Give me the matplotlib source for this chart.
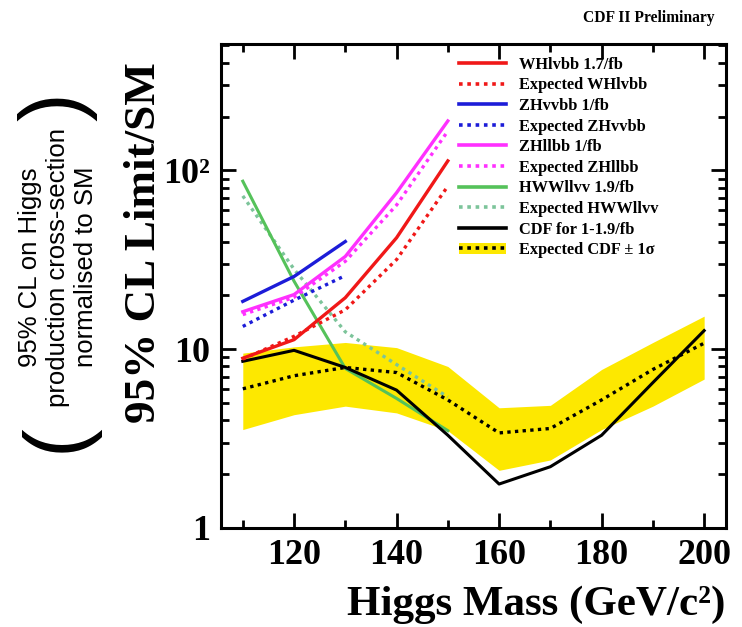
import matplotlib
matplotlib.use("Agg")
import matplotlib.pyplot as plt
from matplotlib.ticker import FixedLocator, NullFormatter, FixedFormatter
from matplotlib.patches import Patch
from matplotlib.lines import Line2D

# ---- data ----
mass = [110, 120, 130, 140, 150, 160, 170, 180, 190, 200]
mass_lo = [110, 120, 130]          # ZHvvbb only up to 130
mass_mid = [110, 120, 130, 140, 150]

wh_obs = [8.9, 11.3, 19.4, 42, 113]
wh_exp = [8.8, 11.8, 16.6, 31.7, 81.6]
zhvv_obs = [18.5, 25.5, 40]
zhvv_exp = [13.4, 18.8, 25.8]
zhll_obs = [16.2, 20.2, 33, 75, 189]
zhll_exp = [15.6, 19.5, 31, 64, 166]
hww_obs = [87, 24, 7.8, 5.3, 3.5]
hww_exp = [72, 28, 12.5, 8.2, 5.4]

cdf_obs = [8.55, 9.85, 7.9, 5.9, 3.3, 1.76, 2.2, 3.3, 6.5, 12.7]
cdf_exp = [6.0, 7.1, 7.9, 7.4, 5.2, 3.4, 3.6, 5.2, 7.7, 10.8]
band_hi = [9.5, 10.3, 10.9, 10.2, 8.0, 4.7, 4.85, 7.7, 10.9, 15.3]
band_lo = [3.55, 4.3, 4.8, 4.4, 3.5, 2.1, 2.4, 3.55, 4.8, 6.8]

legend_labels = ["WHlvbb 1.7/fb", "Expected WHlvbb",
                 "ZHvvbb 1/fb", "Expected ZHvvbb",
                 "ZHllbb 1/fb", "Expected ZHllbb",
                 "HWWllvv 1.9/fb", "Expected HWWllvv",
                 "CDF for 1-1.9/fb", "Expected CDF \u00b1 1\u03c3"]

xticks_major = [120, 140, 160, 180, 200]
xticks_minor = [110, 130, 150, 170, 190]
ytick_labels = ["1", "10", "10\u00b2"]

# ---- styling ----
RED = "#f01818"
BLUE = "#1c1cd8"
MAG = "#ff30ff"
GREEN = "#55c25a"
GREEN_D = "#7cc49a"
YEL = "#fde800"
SERIF = "Liberation Serif"
DOT = (0, (1.0, 1.3))

fig = plt.figure(figsize=(7.42, 6.27), dpi=100)
ax = fig.add_axes([0.2975, 0.158, 0.6805, 0.772])

ax.fill_between(mass, band_lo, band_hi, color=YEL, lw=0, zorder=1)
ax.plot(mass, cdf_exp, color="black", lw=2.4, ls=DOT, zorder=3)
ax.plot(mass, cdf_obs, color="black", lw=2.2, zorder=3)

ax.plot(mass_mid, hww_exp, color=GREEN_D, lw=2.4, ls=DOT, zorder=2)
ax.plot(mass_mid, hww_obs, color=GREEN, lw=2.2, zorder=2)

ax.plot(mass_mid, wh_exp, color=RED, lw=2.4, ls=DOT, zorder=4)
ax.plot(mass_mid, wh_obs, color=RED, lw=2.4, zorder=4)
ax.plot(mass_lo, zhvv_exp, color=BLUE, lw=2.4, ls=DOT, zorder=4)
ax.plot(mass_lo, zhvv_obs, color=BLUE, lw=2.4, zorder=4)
ax.plot(mass_mid, zhll_exp, color=MAG, lw=2.4, ls=DOT, zorder=4)
ax.plot(mass_mid, zhll_obs, color=MAG, lw=2.4, zorder=4)

ax.set_yscale("log")
ax.set_xlim(105.7, 204.2)
ax.set_ylim(1, 510)

ax.xaxis.set_major_locator(FixedLocator(xticks_major))
ax.xaxis.set_minor_locator(FixedLocator(xticks_minor))
ax.yaxis.set_major_locator(FixedLocator([1, 10, 100]))
ax.yaxis.set_major_formatter(FixedFormatter(ytick_labels))
ax.yaxis.set_minor_formatter(NullFormatter())
ax.tick_params(which="both", direction="in", top=True, right=True, width=2)
ax.tick_params(which="major", length=11, pad=8)
ax.tick_params(which="minor", length=6)
for lab in ax.get_xticklabels() + ax.get_yticklabels():
    lab.set_fontfamily(SERIF)
    lab.set_fontweight("bold")
    lab.set_fontsize(26)
for s in ax.spines.values():
    s.set_linewidth(2.2)

ax.set_xlabel("Higgs Mass (GeV/c\u00b2)", fontfamily=SERIF, fontweight="bold",
              fontsize=31, loc="right", labelpad=10)
ax.set_ylabel("95% CL Limit/SM", fontfamily=SERIF, fontweight="bold",
              fontsize=32.5, va="center", ha="center")
ax.yaxis.set_label_coords(-0.152, 0.59)

fig.text(0.963, 0.972, "CDF II Preliminary", fontfamily=SERIF, fontweight="bold",
         fontsize=11.2, ha="right", va="center")

# legend
handles = [
    Line2D([], [], color=RED, lw=2.6),
    Line2D([], [], color=RED, lw=2.6, ls=DOT),
    Line2D([], [], color=BLUE, lw=2.6),
    Line2D([], [], color=BLUE, lw=2.6, ls=DOT),
    Line2D([], [], color=MAG, lw=2.6),
    Line2D([], [], color=MAG, lw=2.6, ls=DOT),
    Line2D([], [], color=GREEN, lw=2.6),
    Line2D([], [], color=GREEN_D, lw=2.6, ls=DOT),
    Line2D([], [], color="black", lw=2.6),
    (Patch(facecolor=YEL, edgecolor="none"), Line2D([], [], color="black", lw=2.6, ls=DOT)),
]
leg = ax.legend(handles, legend_labels, loc="upper left", bbox_to_anchor=(0.465, 0.98),
                frameon=False, prop={"family": SERIF, "weight": "bold", "size": 11.8},
                handlelength=2.87, handletextpad=0.8, labelspacing=0.28,
                borderaxespad=0, borderpad=0.2)

# left annotation
fig.text(0.078, 0.574, "95% CL on Higgs\nproduction cross-section\nnormalised to SM",
         rotation=90, ha="center", va="center", fontfamily="Liberation Sans",
         fontsize=18.5, linespacing=1.22, multialignment="center")
fig.text(0.078, 0.302, "(", rotation=90, ha="center", va="center",
         fontfamily="Liberation Sans", fontsize=62)
fig.text(0.078, 0.83, ")", rotation=90, ha="center", va="center",
         fontfamily="Liberation Sans", fontsize=62)

fig.savefig("out.png", dpi=100)
